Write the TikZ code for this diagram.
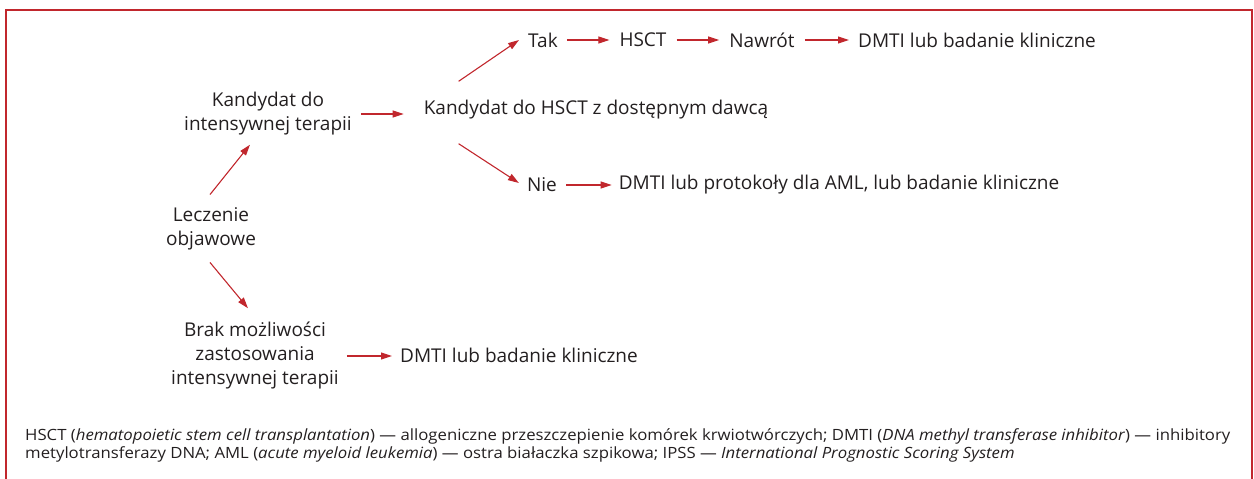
\documentclass[tikz,border=0pt]{standalone}
\usepackage{fontspec}
\setmainfont{Open Sans}
\newfontfamily\capfont[FakeStretch=1.08]{Open Sans}
\usetikzlibrary{arrows.meta,calc}
\definecolor{fr}{HTML}{C1272D}
\definecolor{tx}{HTML}{231F20}
\begin{document}
\begin{tikzpicture}[x=1pt,y=-1pt,
  every node/.style={text=tx, font=\fontsize{19}{24}\selectfont, inner sep=0pt},
  lbl/.style={align=center},
  captext/.style={font=\capfont\fontsize{15.5}{18}\selectfont, align=left, anchor=north west},
  arr/.style={draw=fr, line width=1.1pt, -{Triangle[length=11pt,width=7pt]}}]
\useasboundingbox (0,0) rectangle (1254,479);
\draw[fr, line width=1.6pt] (6,479) -- (6,10) -- (1252,10) -- (1252,479);

\node (tak) at (543,40) {Tak};
\node (hsct) at (643,40) {HSCT};
\node (naw) at (762,40) {Nawrót};
\node (d1) at (977,40) {DMTI lub badanie kliniczne};
\node (kh) at (596,110) {Kandydat do HSCT z dostępnym dawcą};
\node[lbl] (kd) at (268,114) {Kandydat do\\intensywnej terapii};
\node (nie) at (542,185) {Nie};
\node (d2) at (839,185) {DMTI lub protokoły dla AML, lub badanie kliniczne};
\node[lbl] (ld) at (211,229) {Leczenie\\objawowe};
\node[lbl] (bm) at (255,356) {Brak możliwości\\zastosowania\\intensywnej terapii};
\node (d3) at (519,355) {DMTI lub badanie kliniczne};

\draw[arr] ([xshift=9pt]tak.east) -- ([xshift=-10pt]hsct.west);
\draw[arr] ([xshift=10pt]hsct.east) -- ([xshift=-10pt]naw.west);
\draw[arr] ([xshift=10pt]naw.east) -- ([xshift=-9pt]d1.west);
\draw[arr] ([xshift=9pt]nie.east) -- ([xshift=-7pt]d2.west);
\draw[arr] ([xshift=9pt]kd.east) -- ([xshift=-20pt]kd.east -| kh.west);
\draw[arr] ([xshift=8pt]bm.east) -- ([xshift=-8pt]bm.east -| d3.west);
\draw[arr] ($(kh.north west)+(35,-19)$) -- ($(tak.west)+(-9,0)$);
\draw[arr] ($(kh.south west)+(35,24)$) -- ($(nie.west)+(-8,-2)$);
\draw[arr] ($(ld.north)+(-1,-13)$) -- ($(kd.south)+(-18,9)$);
\draw[arr] ($(ld.south)+(-1,12)$) -- ($(bm.north)+(-7,-14)$);

\node[captext] (caption) at (25,428) {HSCT (\textit{hematopoietic stem cell transplantation}) — allogeniczne przeszczepienie komórek krwiotwórczych; DMTI (\textit{DNA methyl transferase inhibitor}) — inhibitory\\metylotransferazy DNA; AML (\textit{acute myeloid leukemia}) — ostra białaczka szpikowa; IPSS — \textit{International Prognostic Scoring System}};
\end{tikzpicture}
\end{document}
